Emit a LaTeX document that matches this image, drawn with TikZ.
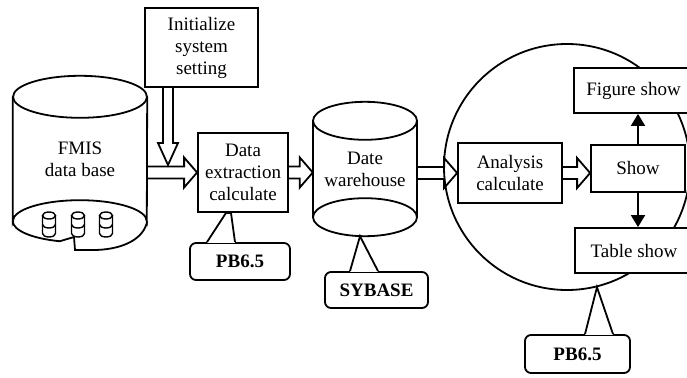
\documentclass[tikz,border=0pt]{standalone}
\usepackage{fontspec}
\setmainfont{Liberation Serif}
\usetikzlibrary{arrows.meta,calc}

\tikzset{
  rim/.style={line width=1.8pt},
  box/.style={draw, fill=white, rim, align=center, inner sep=0pt},
  note/.style={box, rounded corners=6pt, font=\fontsize{19}{22}\selectfont\bfseries},
  dbbody/.style={align=center, inner sep=0pt},
  fatarrow/.style={rim, line join=miter},
  showarrow/.style={rim, -{Triangle[length=12pt,width=14pt]}}
}

% hollow arrows: #1 start, #2 tip
\newcommand\hollowright[2]{%
  \draw[fatarrow] let \p1=#1, \p2=#2 in
    (\x1,\y2+6pt) -- (\x2-13pt,\y2+6pt) -- (\x2-13pt,\y2+15pt) -- (\x2,\y2)
    -- (\x2-13pt,\y2-15pt) -- (\x2-13pt,\y2-6pt) -- (\x1,\y2-6pt);}
\newcommand\hollowdown[2]{%
  \draw[fatarrow] let \p1=#1, \p2=#2 in
    (\x2-5pt,\y1) -- (\x2-5pt,\y2+22pt) -- (\x2-10pt,\y2+22pt) -- (\x2,\y2)
    -- (\x2+10pt,\y2+22pt) -- (\x2+5pt,\y2+22pt) -- (\x2+5pt,\y1);}
% callout tail: node, left and right offsets on its top edge, two apex points
\newcommand\notetail[5]{%
  \fill[white] ($(#1.north)+(#2,-1.2)$) rectangle ($(#1.north)+(#3,1.2)$);
  \draw[rim] ($(#1.north)+(#2,0)$) -- #4 -- #5 -- ($(#1.north)+(#3,0)$);}

\begin{document}
\begin{tikzpicture}[x=1pt, y=1pt, font=\fontsize{19}{22}\selectfont]
  \useasboundingbox (0,0) rectangle (687,-377);
  \clip (0,0) rectangle (687,-377);

  % processing ring
  \node[circle, draw, rim, minimum size=246pt, inner sep=0pt] (ring) at (567,-167) {};

  % FMIS data base
  \node[dbbody, minimum width=134pt, minimum height=124pt] (fmis) at (80,-159) {FMIS\\data base};
  \draw[rim] (fmis.north) ellipse [x radius=67, y radius=21];
  \draw[rim] (fmis.north west) -- (fmis.south west)
    arc[start angle=180, end angle=0, x radius=67, y radius=21] -- (fmis.north east);
  \draw[rim] (fmis.south west) arc[start angle=180, end angle=252.6, x radius=67, y radius=21]
    -- (74,-237) -- (75,-250) -- (96,-250) .. controls (125,-249) and (144,-238) .. (fmis.south east);
  \foreach \x in {49,78,106} {
    \draw[line width=1.4pt] (\x,-215.5) ellipse [x radius=6.5, y radius=3.5];
    \draw[line width=1.4pt] (\x-6.5,-215.5) -- (\x-6.5,-233.5)
      arc[start angle=180, end angle=360, x radius=6.5, y radius=3.5] -- (\x+6.5,-215.5);
    \draw[line width=1.4pt] (\x-6.5,-224.5) arc[start angle=180, end angle=360, x radius=6.5, y radius=3.5];
  }

  % Date warehouse
  \node[dbbody, minimum width=104pt, minimum height=96pt] (ware) at (365,-169) {Date\\warehouse};
  \draw[rim] (ware.north) ellipse [x radius=52, y radius=19];
  \draw[rim] (ware.south) ellipse [x radius=52, y radius=19];
  \draw[rim] (ware.north west) -- (ware.south west);
  \draw[rim] (ware.north east) -- (ware.south east);

  % boxes
  \node[box, minimum width=113pt, minimum height=79pt] (init) at (201.5,-47.5) {Initialize\\system\\setting};
  \node[box, minimum width=90pt, minimum height=79pt] (dex) at (243,-172.5) {Data\\extraction\\calculate};
  \node[box, minimum width=104pt, minimum height=60pt] (anal) at (510,-173) {Analysis\\calculate};
  \node[box, minimum width=94pt, minimum height=47pt] (show) at (638,-168.5) {Show};
  \node[box, minimum width=119pt, minimum height=45pt] (fig) at (633.5,-90.5) {Figure show};
  \node[box, minimum width=118pt, minimum height=45pt] (tab) at (634,-250.5) {Table show};
  \coordinate (merge) at (168,-165);

  % flow
  \hollowdown{(init.south -| merge)}{(merge)}
  \hollowright{(fmis.east |- dex.west)}{(dex.west)}
  \hollowright{(dex.east)}{(ware.west |- dex.east)}
  \hollowright{(ware.east)}{(anal.west)}
  \hollowright{(anal.east)}{(show.west |- anal.east)}
  \draw[showarrow] (show.north) -- (show.north |- fig.south);
  \draw[showarrow] (show.south) -- (show.south |- tab.north);

  % tools
  \node[note, minimum width=100pt, minimum height=37pt] (pb1) at (240,-261.5) {PB6.5};
  \node[note, minimum width=103pt, minimum height=36pt] (syb) at (376.5,-290) {SYBASE};
  \node[note, minimum width=105pt, minimum height=38pt] (pb2) at (577.5,-354) {PB6.5};
  \notetail{pb1}{-33}{-5}{($(dex.south)+(-17,0)$)}{($(dex.south)+(-12,0)$)}
  \notetail{syb}{-26.5}{1.5}{($(ware.south)+(-5,-19)$)}{($(ware.south)+(-5,-19)$)}
  \notetail{pb2}{7.5}{35.5}{(ring.-76)}{(ring.-76)}
\end{tikzpicture}
\end{document}
